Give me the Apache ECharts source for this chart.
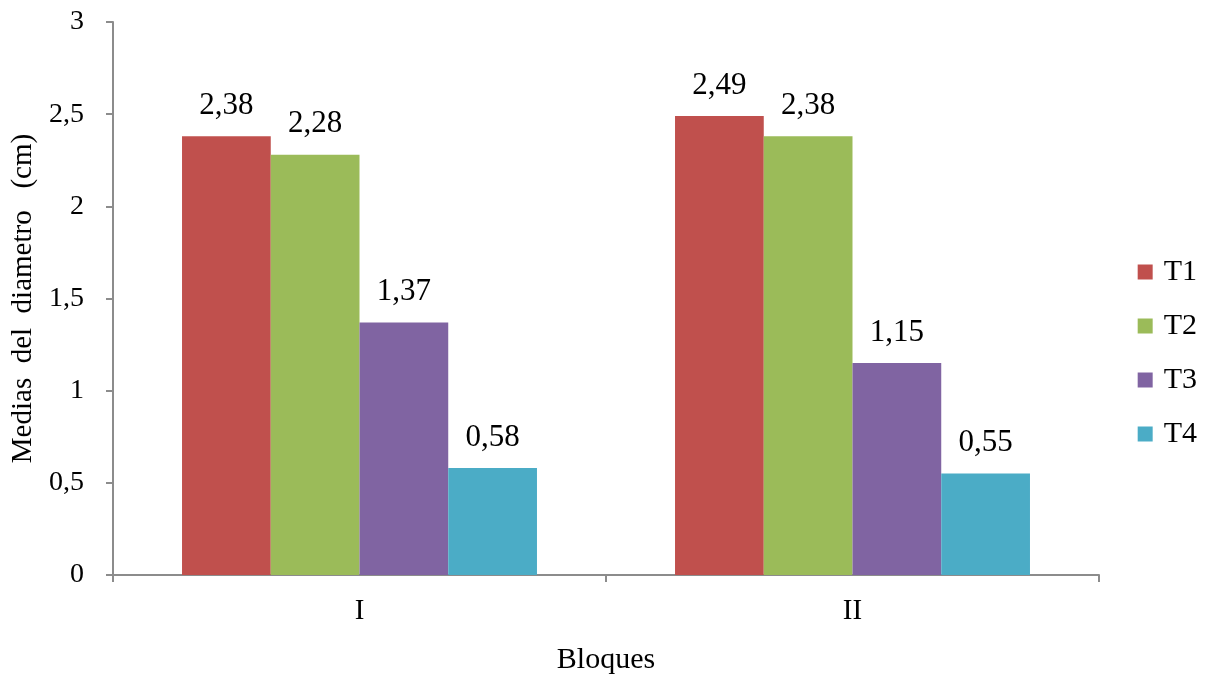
<!DOCTYPE html>
<html><head><meta charset="utf-8">
<script src="https://cdn.jsdelivr.net/npm/echarts@6/dist/echarts.min.js"></script>
<style>html,body{margin:0;padding:0;background:#fff}#c{width:1216px;height:682px}</style>
</head><body><div id="c"></div>
<script>
var categories = ['I', 'II'];
var seriesNames = ['T1', 'T2', 'T3', 'T4'];
var T1 = [2.38, 2.49];
var T2 = [2.28, 2.38];
var T3 = [1.37, 1.15];
var T4 = [0.58, 0.55];
var yTicks = [0, 0.5, 1, 1.5, 2, 2.5, 3];
var colors = ['#C0504D', '#9BBB59', '#8064A2', '#4BACC6'];
var values = [T1, T2, T3, T4];
var font = 'Liberation Serif';
function comma(v){ return String(v).replace('.', ','); }
var chart = echarts.init(document.getElementById('c'));
chart.setOption({
  animation: false,
  textStyle: { fontFamily: font },
  grid: { left: 113, right: 117, top: 22, bottom: 107 },
  legend: {
    orient: 'vertical', right: 14, top: 252, itemGap: 24,
    itemWidth: 15, itemHeight: 15, icon: 'rect',
    textStyle: { fontFamily: font, fontSize: 30, color: '#000', padding: [0, 0, 0, 6] },
    data: seriesNames
  },
  xAxis: {
    type: 'category', data: categories,
    name: 'Bloques', nameLocation: 'middle', nameGap: 70,
    nameTextStyle: { fontFamily: font, fontSize: 30, color: '#000' },
    axisLine: { lineStyle: { color: '#8c8c8c', width: 2 } },
    axisTick: { show: true, length: 7, lineStyle: { color: '#8c8c8c', width: 2 } },
    axisLabel: { fontFamily: font, fontSize: 29, color: '#000', margin: 22 }
  },
  yAxis: {
    type: 'value', min: yTicks[0], max: yTicks[yTicks.length-1], interval: 0.5,
    name: 'Medias  del  diametro   (cm)', nameLocation: 'middle', nameGap: 70,
    nameTextStyle: { fontFamily: font, fontSize: 29, color: '#000' },
    axisLine: { show: true, lineStyle: { color: '#8c8c8c', width: 2 } },
    axisTick: { show: true, length: 7, lineStyle: { color: '#8c8c8c', width: 2 } },
    splitLine: { show: false },
    axisLabel: { fontFamily: font, fontSize: 28, color: '#000', margin: 29, formatter: comma }
  },
  series: seriesNames.map(function(n, i){
    return {
      name: n, type: 'bar', data: values[i],
      barGap: '0%', barCategoryGap: '28%',
      itemStyle: { color: colors[i] },
      label: { show: true, position: 'top', distance: 15, fontFamily: font, fontSize: 31, color: '#000', formatter: function(p){ return comma(p.value); } }
    };
  })
});
</script></body></html>
